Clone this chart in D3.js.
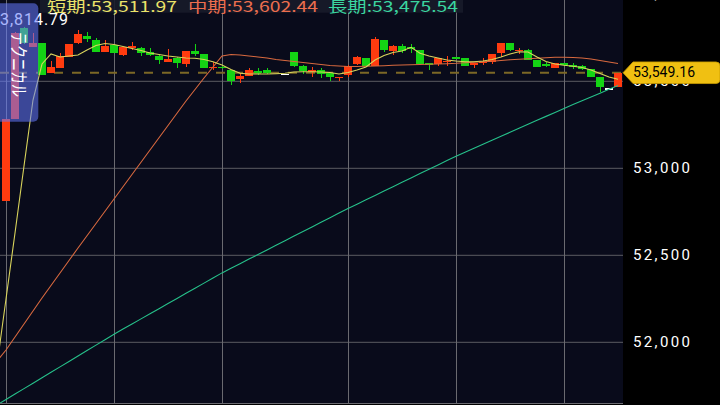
<!DOCTYPE html>
<html><head><meta charset="utf-8">
<script src="https://cdn.jsdelivr.net/npm/d3@7"></script>
<style>html,body{margin:0;padding:0;background:#000;overflow:hidden}</style>
</head><body><svg id="c" width="720" height="405"></svg>
<script>
// ---- data ----
const bars = d3.range(69);
const open  = [52812,53283,53805,53695,53722,53549,53575,53641,53722,53762,53737,53667,53709,53651,53693,53691,53667,53645,53613,53636,53598,53674,53657,53578,53584,53565,53512,53532,53557,53565,null,53542,53667,53588,53555,53565,53549,53521,53536,53599,53632,53588,53737,53674,53705,53697,53680,53603,53599,53613,53638,53632,53595,53607,53613,53664,53718,53676,53680,53624,53599,53578,53603,53591,53588,53569,53526,53460,53466];
const high  = [53283,53785,53814.79,53779,53722,53618,53661,53716,53795,53785,53747,53737,53710,53697,53724,53699,53690,53651,53684,53637,53676,53714,53658,53609,53586,53566,53546,53575,53575,53575,null,53542,53670,53594,53584,53575,53555,53527,53594,53645,53634,53756,53739,53706,53713,53714,53681,53604,53636,53645,53639,53634,53604,53632,53656,53720,53722,53693,53686,53625,53613,53604,53605,53603,53595,53570,53527,53460,53549.16];
const low   = [52812,53283,53712,53695,53536,53549,53575,53641,53713,53724,53670,53667,53664,53645,53680,53647,53647,53598,53612,53578,53584,53645,53576,53565,53573,53479,53489,53531,53536,53540,null,53542,53584,53542,53526,53517,53502,53502,53526,53594,53586,53587,53670,53651,53661,53661,53598,53565,53590,53588,53627,53588,53578,53594,53598,53641,53674,53655,53623,53582,53580,53575,53590,53569,53565,53525,53440,53460,53465];
const close = [53283,53778,53718,53718,53536,53584,53645,53714,53770,53741,53670,53705,53664,53695,53705,53664,53651,53622,53628,53607,53674,53657,53578,53584,53575,53502,53532,53565,53552,53546,null,53542,53590,53559,53565,53542,53523,53526,53588,53638,53588,53741,53680,53705,53674,53691,53599,53595,53636,53618,53628,53590,53603,53613,53655,53718,53680,53680,53624,53584,53594,53603,53592,53585,53569,53526,53469,53460,53549.16];

const maBars = d3.range(-1, 69);
const maShort = [51869.5,52248.8,52628.1,53013.2,53392.5,53599.4,53656.9,53639.6,53645.4,53651.1,53679.9,53705.7,53717.2,53711.5,53700.0,53688.5,53677.0,53662.6,53654.0,53645.4,53639.6,53633.9,53632.1,53625.3,53612.6,53593.6,53567.8,53545.9,53541.9,53541.9,53541.9,53543.6,53545.9,53553.4,53555.1,53555.1,53553.4,53550.5,53541.9,53550.5,53564.9,53582.2,53622.4,53648.2,53665.5,53674.1,53695.4,53660.9,53645.4,53633.9,53622.4,53616.6,53612.6,53612.6,53616.6,53625.3,53639.6,53656.9,53670.1,53668.4,53639.6,53613.8,53599.4,53591.9,53586.8,53579.3,53564.9,53544.8,53524.7,53511.97];
const maMid = [51892.5,51955.8,52030.5,52105.2,52179.9,52254.6,52326.5,52398.3,52470.1,52542.0,52612.4,52682.8,52753.2,52823.6,52894.0,52964.4,53034.8,53105.2,53175.5,53245.9,53316.3,53386.8,53452.8,53519.0,53582.2,53645.4,53654.0,53651.1,53645.4,53639.6,53633.9,53625.3,53619.5,53613.8,53608.0,53602.3,53596.5,53590.8,53587.9,53585.0,53585.0,53586.2,53587.9,53589.6,53591.9,53593.6,53595.4,53596.5,53597.7,53599.4,53601.1,53603.4,53606.9,53609.7,53612.6,53615.5,53619.5,53624.1,53627.0,53629.9,53632.7,53635.6,53637.9,53638.5,53636.8,53633.9,53628.1,53619.5,53610.9,53602.44];
const maLong = [51639.7,51671.3,51702.6,51733.8,51765.1,51796.4,51827.6,51858.9,51890.1,51921.4,51952.6,51983.9,52015.2,52046.5,52075.9,52105.2,52134.6,52164.0,52193.3,52222.7,52252.1,52281.4,52310.8,52340.2,52369.5,52398.9,52425.3,52451.8,52478.2,52504.6,52531.1,52557.5,52583.9,52610.4,52636.8,52663.2,52689.7,52716.1,52742.5,52769.0,52794.0,52819.1,52844.2,52869.2,52894.3,52919.4,52944.4,52969.5,52994.5,53019.6,53044.7,53069.7,53092.6,53115.5,53138.3,53161.2,53184.1,53207.0,53229.8,53252.7,53275.6,53298.4,53321.3,53344.2,53366.1,53388.0,53409.9,53431.8,53453.7,53475.54];

const yTicks = [52000, 52500, 53000, 53500, 54000];
const gridBars = [0, 12, 24, 38, 50, 62];
const lastPrice = 53549.16;
const highIdx = 2;
const legendNames = ["短期", "中期", "長期"];
const legendValues = [53511.97, 53602.44, 53475.54];
const sideTabLabel = "テクニカル";

// ---- drawing ----
const W = 720, H = 405, plotR = 623, plotB = 404;
const svg = d3.select("#c");
const fmt = d3.format(",.2f"), fmt0 = d3.format(",");
const x = d3.scaleLinear().domain([0, 68]).range([6, 618]);
const y = d3.scaleLinear().domain([52000, 53000]).range([342.3, 168.3]);
const half = 4;
const UP = "#ff3b0f", DOWN = "#14d414", FLAT = "#ffffff";
const cShort = "#d9d45c", cMid = "#d8693f", cLong = "#26c08a";

svg.append("rect").attr("width", W).attr("height", H).attr("fill", "#000");
svg.append("rect").attr("width", plotR).attr("height", plotB).attr("fill", "#090b1b");
svg.append("defs").append("clipPath").attr("id", "pc")
  .append("rect").attr("width", plotR).attr("height", plotB);
const plot = svg.append("g").attr("clip-path", "url(#pc)");

// grid
plot.selectAll(".hg").data(yTicks).join("line")
  .attr("x1", 0).attr("x2", plotR).attr("y1", d => y(d)).attr("y2", d => y(d))
  .attr("stroke", "#5c5c62").attr("stroke-width", 1);
plot.selectAll(".vg").data(gridBars).join("line")
  .attr("x1", d => x(d) + 0.5).attr("x2", d => x(d) + 0.5).attr("y1", 0).attr("y2", plotB)
  .attr("stroke", "#6a6a70").attr("stroke-width", 1);
svg.append("line").attr("x1", 0).attr("x2", plotR).attr("y1", plotB - 0.5).attr("y2", plotB - 0.5)
  .attr("stroke", "#6a6a70");

// current price dashed line
plot.append("line").attr("x1", 0).attr("x2", plotR).attr("y1", y(lastPrice)).attr("y2", y(lastPrice))
  .attr("stroke", "#7c6826").attr("stroke-width", 2).attr("stroke-dasharray", "9,9");

// candles
const cd = bars.filter(i => open[i] != null).map(i => ({i, o: open[i], h: high[i], l: low[i], c: close[i]}));
const col = d => d.c > d.o ? UP : d.c < d.o ? DOWN : FLAT;
const cg = plot.append("g").attr("shape-rendering", "crispEdges");
cg.selectAll(".w").data(cd).join("line")
  .attr("x1", d => x(d.i) + 0.5).attr("x2", d => x(d.i) + 0.5)
  .attr("y1", d => y(d.h)).attr("y2", d => y(d.l))
  .attr("stroke", col).attr("stroke-width", 1);
cg.selectAll(".b").data(cd).join("rect")
  .attr("x", d => x(d.i) - half).attr("width", half * 2)
  .attr("y", d => y(Math.max(d.o, d.c)))
  .attr("height", d => Math.max(1.5, Math.abs(y(d.o) - y(d.c))))
  .attr("fill", col);

// moving averages
const lineGen = arr => d3.line().x((d, k) => x(maBars[k])).y(d => y(d))(arr);
[[maLong, cLong], [maMid, cMid], [maShort, cShort]].forEach(([arr, c]) => {
  plot.append("path").attr("d", lineGen(arr)).attr("fill", "none")
    .attr("stroke", c).attr("stroke-width", 1.1);
});

// high label
plot.append("text").attr("x", -10).attr("y", y(high[highIdx]) - 1.5)
  .attr("font-family", "Roboto, sans-serif").attr("font-size", 16)
  .attr("textLength", 78).attr("lengthAdjust", "spacing")
  .attr("fill", "#fff").text(fmt(high[highIdx]));

// side tab overlay
plot.append("rect").attr("x", -6).attr("y", 3.3).attr("width", 44.3).attr("height", 118.4)
  .attr("rx", 5).attr("fill", "rgb(100,122,255)").attr("fill-opacity", 0.55);
plot.append("text").attr("transform", "translate(19,32) scale(1.4,1) rotate(90)")
  .attr("dominant-baseline", "central")
  .attr("font-family", "'Noto Sans CJK JP', sans-serif").attr("font-size", 13)
  .attr("textLength", 65).attr("lengthAdjust", "spacingAndGlyphs")
  .attr("fill", "#fff").text(sideTabLabel);

// legend
const legX = [47, 188, 328];
const legC = ["#ebe36a", "#ec6e4e", "#3bd6a0"];
svg.append("rect").attr("x", 40).attr("y", 0).attr("width", 423).attr("height", 12.7)
  .attr("fill", "#181b2a").attr("fill-opacity", 0.9);
legendNames.forEach((n, k) => {
  svg.append("text").attr("x", legX[k]).attr("y", 11.7)
    .attr("font-family", "'Noto Sans CJK JP', sans-serif").attr("font-size", 15)
    .attr("textLength", 130).attr("lengthAdjust", "spacingAndGlyphs")
    .attr("fill", legC[k]).text(n + ":" + fmt(legendValues[k]));
});

// right axis
svg.append("rect").attr("x", plotR).attr("y", 0).attr("width", W - plotR).attr("height", H).attr("fill", "#000");
svg.selectAll(".yl").data(yTicks).join("text")
  .attr("x", 633).attr("y", d => y(d) + 5)
  .attr("font-family", "Roboto, sans-serif").attr("font-size", 15)
  .attr("textLength", 57).attr("lengthAdjust", "spacing")
  .attr("fill", "#fff").text(d => fmt0(d));

// price tag
const ty = y(lastPrice);
svg.append("path")
  .attr("d", `M${plotR},${ty} L${plotR + 10},${ty - 10.8} H716 Q720,${ty - 10.8} 720,${ty - 6.8} V${ty + 6.8} Q720,${ty + 10.8} 716,${ty + 10.8} H${plotR + 10} Z`)
  .attr("fill", "#f0c012").attr("stroke", "#c89a00").attr("stroke-width", 0.8);
svg.append("text").attr("x", 633).attr("y", ty + 4.5)
  .attr("font-family", "Roboto, sans-serif").attr("font-size", 14)
  .attr("textLength", 62).attr("lengthAdjust", "spacing")
  .attr("fill", "#000").text(fmt(lastPrice));
</script></body></html>
